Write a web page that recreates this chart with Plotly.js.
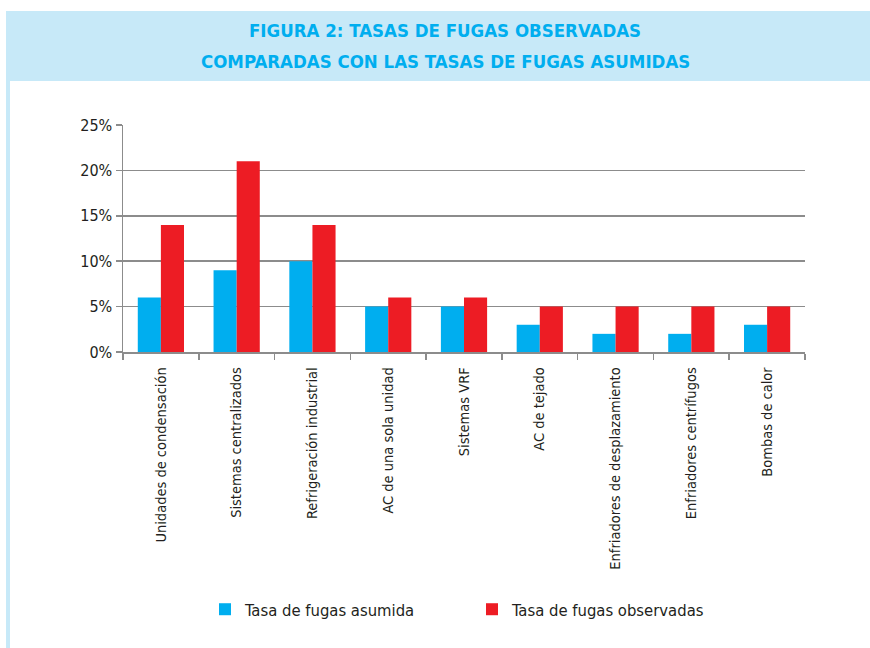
<!DOCTYPE html>
<html>
<head>
<meta charset="utf-8">
<script src="https://cdn.plot.ly/plotly-3.0.1.min.js"></script>
<style>html,body{margin:0;padding:0;background:#fff;}#chart{width:870px;height:648px;}
#chart svg text{font-stretch:condensed !important;}</style>
</head>
<body>
<div id="chart"></div>
<script>
const categories = ["Unidades de condensación","Sistemas centralizados","Refrigeración industrial","AC de una sola unidad","Sistemas VRF","AC de tejado","Enfriadores de desplazamiento","Enfriadores centrífugos","Bombas de calor"];
const asumida = [0.06,0.09,0.10,0.05,0.05,0.03,0.02,0.02,0.03];
const observada = [0.14,0.21,0.14,0.06,0.06,0.05,0.05,0.05,0.05];
const seriesNames = ["Tasa de fugas asumida","Tasa de fugas observadas"];
const yTicks = [0,0.05,0.10,0.15,0.20,0.25];
const titleLines = ["FIGURA 2: TASAS DE FUGAS OBSERVADAS","COMPARADAS CON LAS TASAS DE FUGAS ASUMIDAS"];

const W=870,H=648, L=123, R=805, T=125, B=352;
const pw=R-L, ph=B-T;
const px=x=>(x-L)/pw, py=y=>1-(y-T)/ph;
const FONT='"DejaVu Sans Condensed","Liberation Sans Narrow",sans-serif';
const BLUE='#00AEEF', RED='#ED1C24', GRAY='#8c8c8c', TXT='#231F20';

const traces=[
 {type:'bar',x:categories,y:asumida,name:seriesNames[0],marker:{color:BLUE},legend:'legend'},
 {type:'bar',x:categories,y:observada,name:seriesNames[1],marker:{color:RED},legend:'legend2'}
];
const layout={
 width:W,height:H,
 margin:{l:L,r:W-R,t:T,b:H-B},
 paper_bgcolor:'#fff',plot_bgcolor:'#fff',
 barmode:'group',bargap:0.39,bargroupgap:0,
 showlegend:true,
 font:{family:FONT,color:TXT,size:16},
 xaxis:{type:'category',tickangle:-90,tickson:'boundaries',ticks:'outside',ticklen:6,tickcolor:GRAY,tickwidth:1.5,ticklabelstandoff:8,
   showline:true,linecolor:GRAY,linewidth:1.5,showgrid:false,tickfont:{family:FONT,size:14.5,color:TXT},fixedrange:true},
 yaxis:{range:[0,0.25],tickvals:yTicks,tickformat:'.0%',ticks:'outside',ticklen:6,tickcolor:GRAY,tickwidth:1.5,
   showline:true,linecolor:GRAY,linewidth:1.5,showgrid:true,gridcolor:GRAY,gridwidth:1.5,zeroline:false,
   tickfont:{family:FONT,size:16,color:TXT},fixedrange:true},
 legend:{orientation:'h',x:px(205),y:py(592),xanchor:'left',yanchor:'top',font:{family:FONT,size:16.5,color:TXT},bgcolor:'rgba(0,0,0,0)'},
 legend2:{orientation:'h',x:px(472),y:py(592),xanchor:'left',yanchor:'top',font:{family:FONT,size:16.5,color:TXT},bgcolor:'rgba(0,0,0,0)'},
 shapes:[
  {type:'rect',xref:'paper',yref:'paper',x0:px(6),x1:px(870),y0:py(81),y1:py(11),fillcolor:'#C7E9F8',line:{width:0},layer:'below'},
  {type:'rect',xref:'paper',yref:'paper',x0:px(6),x1:px(10),y0:py(648),y1:py(81),fillcolor:'#C7E9F8',line:{width:0},layer:'below'}
 ],
 annotations:[
  {text:titleLines[0],xref:'paper',yref:'paper',x:px(445),y:py(31),xanchor:'center',yanchor:'middle',showarrow:false,font:{family:FONT,size:18.5,color:BLUE,weight:'bold'}},
  {text:titleLines[1],xref:'paper',yref:'paper',x:px(445),y:py(61),xanchor:'center',yanchor:'middle',showarrow:false,font:{family:FONT,size:18.5,color:BLUE,weight:'bold'}}
 ]
};
Plotly.newPlot('chart',traces,layout,{displayModeBar:false,staticPlot:true});
</script>
</body>
</html>
